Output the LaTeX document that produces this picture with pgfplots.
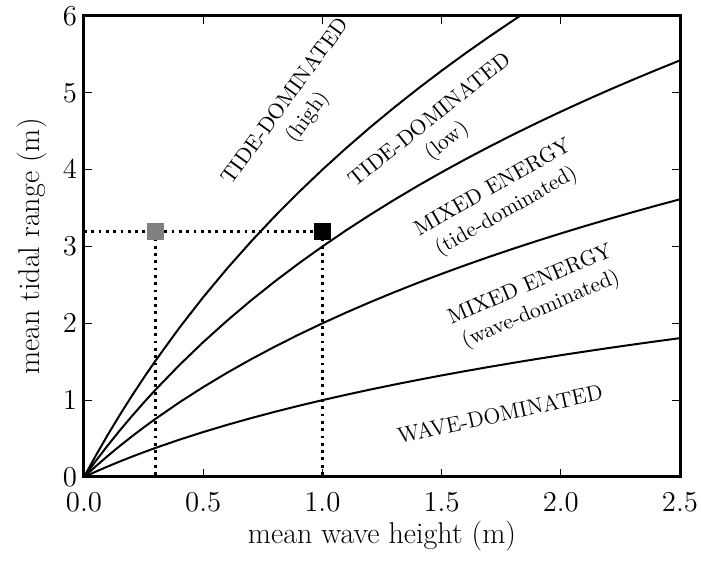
\documentclass[border=0pt]{standalone}
\usepackage{pgfplots}
\pgfplotsset{compat=1.18}
\begin{document}
\begin{tikzpicture}
\begin{axis}[
 scale only axis, width=298pt, height=230.5pt,
 xmin=0, xmax=2.5, ymin=0, ymax=6,
 xtick={0,0.5,1.0,1.5,2.0,2.5}, ytick={0,1,2,3,4,5,6},
 xticklabel style={yshift=-4.5pt, /pgf/number format/.cd, fixed, fixed zerofill, precision=1},
 tick align=inside, major tick length=4pt,
 tick style={line width=0.5pt, black},
 axis line style={line width=1.5pt},
 ticklabel style={font=\fontsize{15}{18}\selectfont},
 label style={font=\fontsize{15}{18}\selectfont},
 xlabel={mean wave height (m)}, ylabel={mean tidal range (m)},
 xlabel style={yshift=2pt},
 ylabel style={yshift=1pt},
 every axis plot/.append style={line width=1pt},
]
\addplot[black, line width=1.4pt, dash pattern=on 1.4pt off 2.25pt] coordinates {(0,3.2) (1,3.2)};
\addplot[black, line width=1.4pt, dash pattern=on 1.4pt off 2.25pt] coordinates {(0.3,3.2) (0.3,0)};
\addplot[black, line width=1.4pt, dash pattern=on 1.4pt off 2.25pt] coordinates {(1,3.2) (1,0)};
% c = 1
\addplot[black, no markers] coordinates {
(0,0) (0.05,0.070389) (0.1,0.137504) (0.15,0.201634) (0.2,0.263034) (0.25,0.321928) (0.3,0.378512) (0.4,0.485427) (0.5,0.584963) (0.6,0.678072) (0.7,0.765535) (0.8,0.847997) (0.9,0.925999) (1.0,1) (1.1,1.070389) (1.2,1.137504) (1.3,1.201634) (1.4,1.263034) (1.5,1.321928) (1.6,1.378512) (1.7,1.432959) (1.8,1.485427) (1.9,1.536053) (2.0,1.584963) (2.1,1.632268) (2.2,1.678072) (2.3,1.722466) (2.4,1.765535) (2.5,1.807355)};
% c = 2
\addplot[black, no markers] coordinates {
(0,0) (0.05,0.140778) (0.1,0.275007) (0.15,0.403268) (0.2,0.526069) (0.25,0.643856) (0.3,0.757023) (0.4,0.970854) (0.5,1.169925) (0.6,1.356144) (0.7,1.531069) (0.8,1.695994) (0.9,1.851998) (1.0,2) (1.1,2.140778) (1.2,2.275007) (1.3,2.403268) (1.4,2.526069) (1.5,2.643856) (1.6,2.757023) (1.7,2.865919) (1.8,2.970854) (1.9,3.072106) (2.0,3.169925) (2.1,3.264535) (2.2,3.356144) (2.3,3.444932) (2.4,3.531069) (2.5,3.614710)};
% c = 3
\addplot[black, no markers] coordinates {
(0,0) (0.05,0.211167) (0.1,0.412511) (0.15,0.604903) (0.2,0.789102) (0.25,0.965784) (0.3,1.135535) (0.4,1.456282) (0.5,1.754888) (0.6,2.034216) (0.7,2.296604) (0.8,2.543990) (0.9,2.777997) (1.0,3) (1.1,3.211167) (1.2,3.412511) (1.3,3.604903) (1.4,3.789102) (1.5,3.965784) (1.6,4.135535) (1.7,4.298877) (1.8,4.456282) (1.9,4.608159) (2.0,4.754888) (2.1,4.896803) (2.2,5.034216) (2.3,5.167397) (2.4,5.296604) (2.5,5.422065)};
% c = 4
\addplot[black, no markers] coordinates {
(0,0) (0.05,0.281556) (0.1,0.550015) (0.15,0.806536) (0.2,1.052138) (0.25,1.287712) (0.3,1.514046) (0.4,1.941708) (0.5,2.339850) (0.6,2.712288) (0.7,3.062139) (0.8,3.391988) (0.9,3.703996) (1.0,4) (1.1,4.281556) (1.2,4.550015) (1.3,4.806536) (1.4,5.052138) (1.5,5.287712) (1.6,5.514046) (1.7,5.731838) (1.8,5.941708) (1.9,6.144212)};
\addplot[only marks, mark=square*, mark size=3.75pt, mark options={fill=gray, draw=gray}] coordinates {(0.3,3.2)};
\addplot[only marks, mark=square*, mark size=3.75pt, mark options={fill=black, draw=black}] coordinates {(1.0,3.2)};
\node[rotate=54, align=center, font=\fontsize{10.8}{13.4}\selectfont] at (axis cs:0.895,4.78) {TIDE-DOMINATED\\(high)};
\node[rotate=38.6, align=center, font=\fontsize{10.8}{13.4}\selectfont] at (axis cs:1.49,4.5) {TIDE-DOMINATED\\(low)};
\node[rotate=29.6, align=center, font=\fontsize{10.8}{13.4}\selectfont] at (axis cs:1.745,3.6) {MIXED ENERGY\\(tide-dominated)};
\node[rotate=23, align=center, font=\fontsize{10.8}{13.4}\selectfont] at (axis cs:1.895,2.33) {MIXED ENERGY\\(wave-dominated)};
\node[rotate=12.3, align=center, font=\fontsize{11}{13.4}\selectfont] at (axis cs:1.745,0.82) {WAVE-DOMINATED};
\end{axis}
\pgfresetboundingbox
\path ([xshift=-42pt,yshift=-44pt]current axis.south west) rectangle ([xshift=10.5pt,yshift=8pt]current axis.north east);
\end{tikzpicture}
\end{document}
